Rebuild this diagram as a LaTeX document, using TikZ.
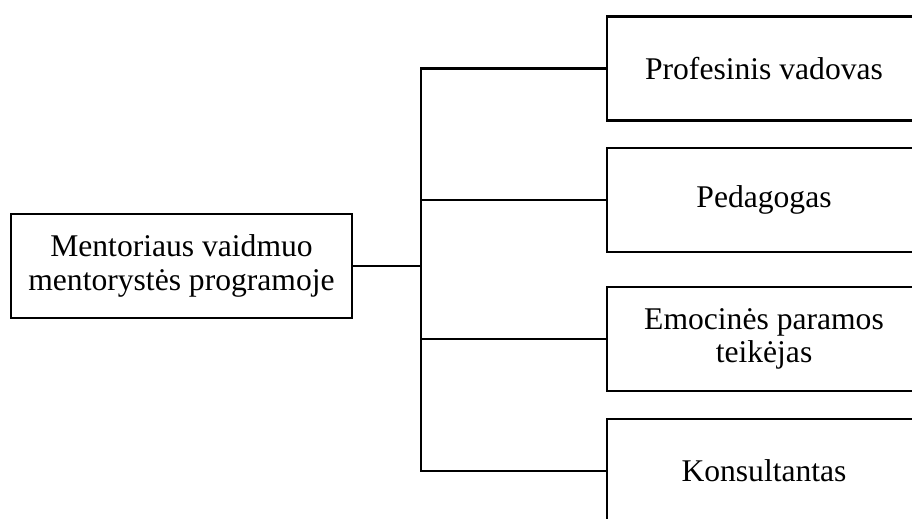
\documentclass[tikz,border=0pt]{standalone}
\usepackage{fontspec}
\setmainfont{Liberation Serif}
\begin{document}
\begin{tikzpicture}[x=0.75pt,y=-0.75pt,
  every node/.style={font=\fontsize{23.7}{25}\selectfont, align=center, inner sep=0pt},
  rolebox/.style={draw, line width=2.2pt, minimum width=235.5pt, minimum height=78pt},
  mainbox/.style={draw, line width=2.2pt, minimum width=255.75pt, minimum height=78pt},
  link/.style={line width=2.1pt}]
  \useasboundingbox (0,0) rectangle (912,518);
  \clip (0,0) rectangle (912,518);

  % central role box
  \node[mainbox] (main) at (181.5,266) {Mentoriaus vaidmuo\\mentorystės programoje};

  % the four roles
  \node[rolebox] (r1) at (764,68.5) {Profesinis vadovas};
  \node[rolebox] (r2) at (764,200) {Pedagogas};
  \node[rolebox] (r3) at (764,339) {Emocinės paramos\\teikėjas};
  \node[rolebox] (r4) at (764,471) {Konsultantas};

  % branching connectors
  \coordinate (hub) at (421,266);
  \draw[link] (main.east) -- (hub);
  \draw[link] (hub) |- (r1.west);
  \draw[link] (hub) |- (r2.west);
  \draw[link] (hub) |- (r3.west);
  \draw[link] (hub) |- (r4.west);
\end{tikzpicture}
\end{document}
